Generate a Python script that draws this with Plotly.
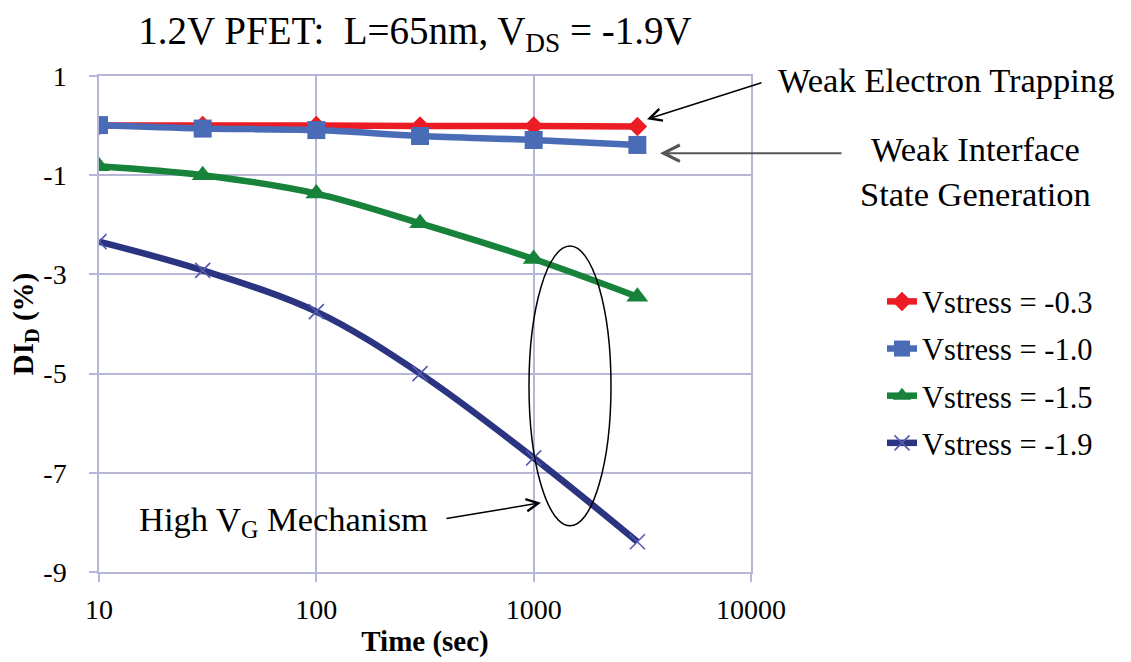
import plotly.graph_objects as go

time_s = [10, 30, 100, 300, 1000, 3000]
series_names = ["Vstress = -0.3", "Vstress = -1.0", "Vstress = -1.5", "Vstress = -1.9"]
di_m03 = [0.0, 0.0, 0.0, -0.01, -0.01, -0.02]
di_m10 = [0.01, -0.06, -0.09, -0.21, -0.29, -0.39]
di_m15 = [-0.82, -1.0, -1.37, -1.97, -2.69, -3.45]
di_m19 = [-2.34, -2.92, -3.75, -5.0, -6.70, -8.39]
x_ticks = [10, 100, 1000, 10000]
x_ticktext = ["10", "100", "1000", "10000"]
y_ticks = [1, -1, -3, -5, -7, -9]
y_ticktext = ["1", "-1", "-3", "-5", "-7", "-9"]

colors = ["#ec1c24", "#4a6bb6", "#17823a", "#2b3480"]
symbols = ["diamond", "square", "triangle-up", "x-thin"]
msizes = [15, 18, 19, 15]
values = [di_m03, di_m10, di_m15, di_m19]

grid = "#b6b6d6"
FONT = "Liberation Serif"

fig = go.Figure()
for i, (name, vals) in enumerate(zip(series_names, values)):
    mk = dict(symbol=symbols[i], size=msizes[i], color=colors[i])
    if symbols[i] == "x-thin":
        mk["line"] = dict(color="#555ab0", width=1.6)
    fig.add_trace(go.Scatter(
        x=time_s, y=vals, name=name, legendgroup=f"g{i}",
        mode="lines+markers",
        line=dict(color=colors[i], width=6.5, shape="spline", smoothing=1),
        marker=mk,
    ))

fig.update_layout(
    width=1131, height=662, autosize=False,
    margin=dict(l=99, r=380, t=76, b=90),
    plot_bgcolor="white", paper_bgcolor="white",
    font=dict(family=FONT, color="black", size=28),
    title=dict(text="1.2V PFET:\u00a0 L=65nm, V<sub>DS</sub> = -1.9V",
               x=415 / 1131, xref="container", xanchor="center",
               y=1 - 30 / 662, yref="container", yanchor="middle",
               font=dict(family=FONT, size=39, color="black")),
    showlegend=True,
    legend=dict(x=(882 - 99) / 652, y=(572.3 - 275) / 496.6, xanchor="left", yanchor="top",
                font=dict(family=FONT, size=30.5, color="black"),
                tracegroupgap=4.5, bgcolor="rgba(0,0,0,0)"),
)

fig.update_xaxes(
    type="log", range=[1, 4], automargin=False,
    tickvals=x_ticks, ticktext=x_ticktext,
    showgrid=True, gridcolor=grid, gridwidth=1.5,
    showline=True, mirror=True, linecolor=grid, linewidth=1.5,
    ticks="outside", ticklen=8, tickcolor=grid, tickwidth=1.5,
    tickfont=dict(family=FONT, size=28, color="black"),
    ticklabelstandoff=4,
    zeroline=False,
    title=dict(text="<b>Time (sec)</b>", font=dict(family=FONT, size=29, color="black"), standoff=6),
)
fig.update_yaxes(
    range=[-9, 1], automargin=False,
    tickvals=y_ticks, ticktext=y_ticktext,
    showgrid=True, gridcolor=grid, gridwidth=1.5,
    showline=True, mirror=True, linecolor=grid, linewidth=1.5,
    ticks="outside", ticklen=8, tickcolor=grid, tickwidth=1.5,
    tickfont=dict(family=FONT, size=28, color="black"),
    ticklabelstandoff=17,
    zeroline=False,
    title=dict(text="<b>DI<sub>D</sub> (%)</b>", font=dict(family=FONT, size=29, color="black"), standoff=0),
)

def px(xp):
    return (xp - 99) / 652

def py(yp):
    return (572.3 - yp) / 496.6

# ellipse
fig.add_shape(type="circle", xref="paper", yref="paper",
              x0=px(529), x1=px(611), y0=py(526), y1=py(246),
              line=dict(color="black", width=1.5))

afont = dict(family=FONT, size=34.5, color="black")
fig.add_annotation(text="Weak Electron Trapping", xref="paper", yref="paper",
                   x=px(946), y=py(80), xanchor="center", yanchor="middle",
                   showarrow=False, font=afont)
fig.add_annotation(text="Weak Interface<br>State Generation", xref="paper", yref="paper",
                   x=px(975), y=py(171), xanchor="center", yanchor="middle",
                   showarrow=False, font=afont)
fig.add_annotation(text="High V<sub>G</sub> Mechanism", xref="paper", yref="paper",
                   x=px(283), y=py(522), xanchor="center", yanchor="middle",
                   showarrow=False, font=afont)

arrows = [
    ((763, 82), (647, 119), "black", 1.5),
    ((843, 153), (660, 153), "#555555", 2),
    ((445, 519), (541, 503), "black", 1.5),
]
for (tx, ty), (hx, hy), c, w in arrows:
    fig.add_annotation(text="", xref="paper", yref="paper",
                       x=px(hx), y=py(hy), ax=tx - hx, ay=ty - hy,
                       showarrow=True, arrowhead=5, arrowsize=1.6, arrowwidth=w,
                       arrowcolor=c, standoff=0, startstandoff=0)

fig.write_html("out.html")
